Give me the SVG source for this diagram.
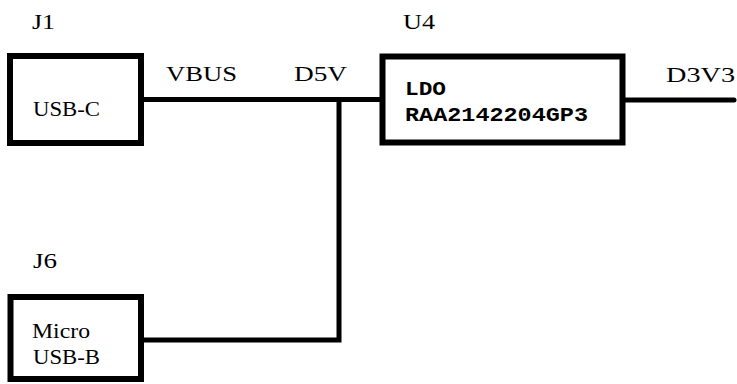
<svg xmlns="http://www.w3.org/2000/svg" width="737" height="384" viewBox="0 0 737 384">
  <style>
    .box { fill: #ffffff; stroke: #000000; stroke-width: 6; }
    .wire { fill: none; stroke: #000000; stroke-width: 5; stroke-linejoin: miter; }
    text { font-family: 'Liberation Serif', 'Tinos', 'Times New Roman', 'Nimbus Roman', 'DejaVu Serif', serif; fill: #000000; }
    text.mono { font-family: 'Liberation Mono', 'Cousine', 'Courier New', 'Nimbus Mono PS', 'DejaVu Sans Mono', monospace; font-weight: bold; }
  </style>
  <rect width="737" height="384" fill="#ffffff"/>
  <g id="connectors">
    <line class="wire" x1="141" y1="99.5" x2="382.5" y2="99.5"/>
    <polyline class="wire" points="141,340 339,340 339,99.5"/>
    <line class="wire" x1="622.5" y1="100" x2="734" y2="100" stroke-linecap="round"/>
    <text font-size="22" x="166" y="81" textLength="71" lengthAdjust="spacingAndGlyphs">VBUS</text>
    <text font-size="22" x="294" y="81" textLength="53" lengthAdjust="spacingAndGlyphs">D5V</text>
    <text font-size="22" x="666" y="82" textLength="69" lengthAdjust="spacingAndGlyphs">D3V3</text>
  </g>
  <g id="J1">
    <text font-size="22" x="32" y="29" textLength="23" lengthAdjust="spacingAndGlyphs">J1</text>
    <rect class="box" x="10" y="56" width="131" height="87"/>
    <text font-size="21" x="33" y="116" textLength="67" lengthAdjust="spacingAndGlyphs">USB-C</text>
  </g>
  <g id="U4">
    <text font-size="22" x="403" y="29" textLength="32" lengthAdjust="spacingAndGlyphs">U4</text>
    <rect class="box" x="382.5" y="56.5" width="240" height="86"/>
    <text class="mono" font-size="20" x="405" y="95" textLength="41" lengthAdjust="spacingAndGlyphs">LDO</text>
    <text class="mono" font-size="20" x="405" y="121" textLength="183" lengthAdjust="spacingAndGlyphs">RAA2142204GP3</text>
  </g>
  <g id="J6">
    <text font-size="22" x="33" y="268" textLength="24" lengthAdjust="spacingAndGlyphs">J6</text>
    <rect class="box" x="10.5" y="297" width="130.5" height="82"/>
    <text font-size="21" x="32" y="338" textLength="58" lengthAdjust="spacingAndGlyphs">Micro</text>
    <text font-size="21" x="33" y="364" textLength="67" lengthAdjust="spacingAndGlyphs">USB-B</text>
  </g>
</svg>
